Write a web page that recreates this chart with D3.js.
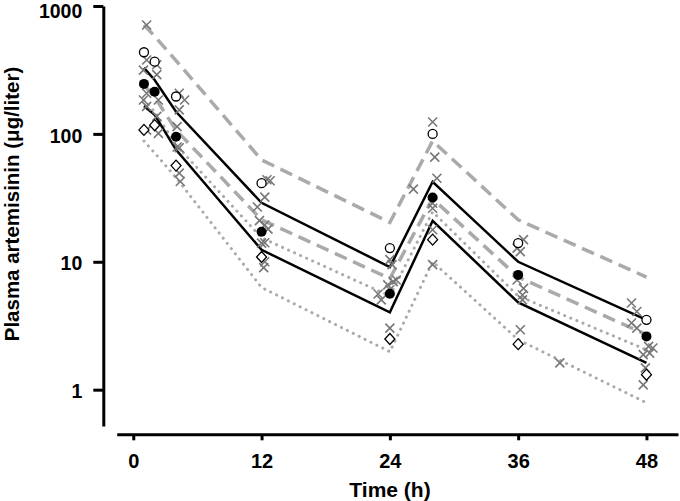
<!DOCTYPE html>
<html>
<head>
<meta charset="utf-8">
<script src="https://cdn.jsdelivr.net/npm/d3@7"></script>
<style>
  html, body { margin: 0; padding: 0; background: #fff; }
  svg { display: block; }
  text { font-family: "Liberation Sans", Arial, sans-serif; font-weight: bold; fill: #000; }
</style>
</head>
<body>
<svg id="chart" width="680" height="501"></svg>
<script>
// ---- Data ----
const lineTimes = [1, 2, 4, 12, 24, 28, 36, 48];
const dashedUpper = [711, 581, 374, 62.6, 20.3, 88, 21.3, 7.6];
const solidUpper  = [328, 264, 149, 28.9, 9.1, 42.2, 10.0, 3.52];
const dashedMid   = [241, 194, 107, 21.3, 7.4, 31.1, 7.6, 2.69];
const dottedUpper = [184, 149, 82, 15.4, 5.4, 24.6, 5.4, 2.05];
const solidLower  = [165, 141, 75, 12.4, 4.02, 20.9, 4.81, 1.62];
const dottedLower = [88, 71, 45.5, 6.3, 1.98, 10.0, 2.46, 0.79];

const markerTimes = [1, 2, 4, 12, 24, 28, 36, 48];
const openCircles  = [435, 367, 196, 41.2, 12.8, 100, 14.0, 3.52];
const filledCircles = [246, 214, 95, 17.2, 5.62, 31.8, 7.9, 2.61];
const diamonds     = [107.5, 117, 56.5, 10.9, 2.49, 14.9, 2.27, 1.31];

const crossTimes = [
  1.25, 1.25, 2.2, 0.95, 2.2, 1.25, 0.95, 1.25, 2.35, 2.2, 2.35, 1.25,
  4.3, 4.8, 4.3, 4.1, 4.3, 4.3, 4.4, 4.1,
  12.5, 12.8, 12.3, 11.6, 11.8, 12.3, 12.6, 12.0, 12.3, 12.3, 12.2,
  24.0, 24.2, 24.6, 24.3, 23.8, 24.0, 22.9, 23.2, 24.0, 26.2,
  28.0, 28.2, 28.4, 28.0, 28.0, 28.0, 28.0,
  36.5, 35.9, 36.2, 35.9, 36.5, 36.4, 36.4, 36.2, 39.9,
  46.6, 47.1, 46.6, 47.1, 48.2, 48.6, 47.7, 48.3, 47.9, 47.7
];
const crossValues = [
  711, 378, 347, 315, 291, 208, 184, 164, 184, 137, 101, 107,
  208, 184, 154, 114, 78, 49.3, 42.4, 79,
  43.8, 43, 32, 26.8, 21, 19.4, 18, 14, 14.1, 10, 9,
  10.4, 9.5, 7.2, 7.0, 6.6, 6.04, 5.6, 5.04, 3.03, 37,
  124, 65.8, 45, 28.7, 26.2, 17.8, 9.5,
  14.9, 12.8, 12, 7.2, 6.2, 5.5, 5.04, 2.94, 1.62,
  4.76, 4.09, 3.32, 3.03, 2.18, 2.12, 1.88, 1.93, 1.48, 1.09
];

const xTicks = [0, 12, 24, 36, 48];
const yTicks = [1, 10, 100, 1000];
const yTickLabels = ["1", "10", "100", "1000"];

// ---- Scales ----
const svg = d3.select("#chart");
const x = d3.scaleLinear().domain([-1.55, 50.95]).range([116.7, 678]);
const y = d3.scaleLog().domain([0.52, 1000]).range([426, 6]);

const FONT = '"Liberation Sans", Arial, sans-serif';

// ---- Axes ----
const yAxis = d3.axisLeft(y).tickValues(yTicks)
  .tickFormat((d, i) => yTickLabels[i]).tickSize(10).tickSizeOuter(0).tickPadding(11);
const gy = svg.append("g").attr("transform", "translate(103.3,0)").call(yAxis);
gy.select(".domain").attr("stroke", "#000").attr("stroke-width", 3);
gy.selectAll(".tick line").attr("stroke", "#000").attr("stroke-width", 3);
gy.selectAll(".tick text")
  .attr("dy", d => d === 1000 ? "0.58em" : "0.42em")
  .style("font-size", "19.5px").style("font-family", FONT).style("font-weight", "bold");

const xAxis = d3.axisBottom(x).tickValues(xTicks).tickSize(6).tickSizeOuter(0).tickPadding(14);
const gx = svg.append("g").attr("transform", "translate(0,434.3)").call(xAxis);
gx.select(".domain").attr("stroke", "#000").attr("stroke-width", 3);
gx.selectAll(".tick line").attr("stroke", "#000").attr("stroke-width", 3);
gx.selectAll(".tick text")
  .style("font-size", "20px").style("font-family", FONT).style("font-weight", "bold");

// ---- Axis titles ----
svg.append("text").attr("x", 390).attr("y", 497).attr("text-anchor", "middle")
  .style("font-size", "21px").text("Time (h)");
svg.append("text").attr("transform", "translate(18.5,204) rotate(-90)").attr("text-anchor", "middle")
  .style("font-size", "20.5px").text("Plasma artemisinin (\u03BCg/liter)");

// ---- Lines ----
const line = d3.line().x(d => x(d[0])).y(d => y(d[1]));
function drawLine(vals, color, width, dash, cap) {
  svg.append("path")
    .datum(lineTimes.map((t, i) => [t, vals[i]]))
    .attr("d", line)
    .attr("fill", "none")
    .attr("stroke", color)
    .attr("stroke-width", width)
    .attr("stroke-dasharray", dash)
    .attr("stroke-linecap", cap || "butt")
    .attr("stroke-linejoin", "miter");
}
drawLine(dottedLower, "#aaaaaa", 3, "0.1,6.5", "round");
drawLine(dottedUpper, "#aaaaaa", 3, "0.1,6.5", "round");
drawLine(dashedMid, "#aaaaaa", 3.5, "13,7", "butt");
drawLine(dashedUpper, "#aaaaaa", 3.5, "13,7", "butt");
drawLine(solidLower, "#000", 2.5, null);
drawLine(solidUpper, "#000", 2.5, null);

// ---- Crosses ----
const crossData = crossTimes.map((t, i) => [t, crossValues[i]]);
svg.append("g").selectAll("path").data(crossData).join("path")
  .attr("transform", d => `translate(${x(d[0])},${y(d[1])})`)
  .attr("d", "M-4.5,-4.5L4.5,4.5M-4.5,4.5L4.5,-4.5")
  .attr("stroke", "#777")
  .attr("stroke-width", 1.6)
  .attr("fill", "none");

// ---- Subject markers ----
svg.append("g").selectAll("path").data(markerTimes.map((t, i) => [t, diamonds[i]])).join("path")
  .attr("transform", d => `translate(${x(d[0])},${y(d[1])})`)
  .attr("d", "M0,-5.5L5,0L0,5.5L-5,0Z")
  .attr("fill", "#fff").attr("stroke", "#000").attr("stroke-width", 1.3);

svg.append("g").selectAll("circle").data(markerTimes.map((t, i) => [t, openCircles[i]])).join("circle")
  .attr("cx", d => x(d[0])).attr("cy", d => y(d[1])).attr("r", 4.5)
  .attr("fill", "#fff").attr("stroke", "#000").attr("stroke-width", 1.3);

svg.append("g").selectAll("circle").data(markerTimes.map((t, i) => [t, filledCircles[i]])).join("circle")
  .attr("cx", d => x(d[0])).attr("cy", d => y(d[1])).attr("r", 5)
  .attr("fill", "#000");
</script>
</body>
</html>
